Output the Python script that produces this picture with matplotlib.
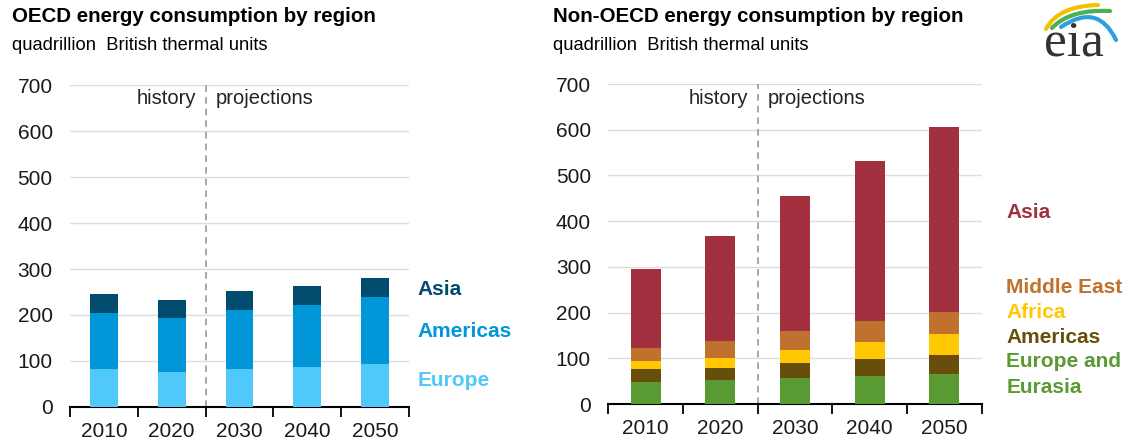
import matplotlib.pyplot as plt
import numpy as np
from matplotlib.path import Path
from matplotlib.patches import PathPatch

plt.rcParams['font.family'] = ['Liberation Sans', 'DejaVu Sans']

# -------------------------------
# Data (quadrillion Btu)
# -------------------------------
years = ["2010", "2020", "2030", "2040", "2050"]

oecd_europe = [82, 76, 82, 87, 92]
oecd_americas = [123, 118, 129, 135, 148]
oecd_asia = [40, 38, 40, 42, 41]

non_europe = [49, 52, 56, 61, 66]
non_americas = [27, 27, 33, 37, 41]
non_africa = [18, 22, 29, 38, 46]
non_mideast = [29, 37, 42, 46, 49]
non_asia = [172, 230, 294, 350, 403]

# -------------------------------
# Styling
# -------------------------------
oecd_series = [
    ("Europe", oecd_europe, "#50c8fa"),
    ("Americas", oecd_americas, "#0096d7"),
    ("Asia", oecd_asia, "#004b6e"),
]
non_series = [
    ("Europe and\nEurasia", non_europe, "#5a9a32"),
    ("Americas", non_americas, "#674e0a"),
    ("Africa", non_africa, "#ffc800"),
    ("Middle East", non_mideast, "#bf712d"),
    ("Asia", non_asia, "#a3303f"),
]

fig = plt.figure(figsize=(11.3, 4.44), dpi=100)


def stacked(ax, series, width, label_y):
    x = np.arange(len(years))
    bottom = np.zeros(len(years))
    for name, vals, color in series:
        ax.bar(x, vals, width, bottom=bottom, color=color, zorder=3)
        bottom += np.array(vals)

    ax.set_xlim(-0.5, len(years) - 0.5)
    ax.set_ylim(0, 700)
    ax.set_yticks(np.arange(0, 701, 100))
    ax.tick_params(axis="y", length=0, labelsize=15, pad=12.5, labelcolor="#1a1a1a")
    ax.set_xticks(x)
    ax.set_xticklabels(years)
    ax.tick_params(axis="x", which="major", length=0, labelsize=15, pad=11, labelcolor="#1a1a1a")
    ax.set_xticks(np.arange(-0.5, len(years)), minor=True)
    ax.tick_params(axis="x", which="minor", length=7, width=1.3, direction="out")
    for s in ["top", "right", "left"]:
        ax.spines[s].set_visible(False)
    ax.spines["bottom"].set_linewidth(1.5)
    ax.grid(axis="y", color="#dddddd", linewidth=1, zorder=0)

    # history / projections divider
    ax.axvline(1.5, color="#999999", linestyle=(0, (4, 3)), linewidth=1.2, zorder=2)
    ax.annotate("history", (1.5, label_y), xytext=(-7, 0), textcoords="offset points",
                ha="right", va="center", fontsize=14.5, color="#222222")
    ax.annotate("projections", (1.5, label_y), xytext=(7, 0), textcoords="offset points",
                ha="left", va="center", fontsize=14.5, color="#222222")


# -------------------------------
# OECD
# -------------------------------
ax1 = fig.add_axes([70 / 1130, 1 - 406.7 / 444, 339 / 1130, 321.3 / 444])
stacked(ax1, oecd_series, 0.41, 672)
for name, y, color in [("Asia", 256, "#004b6e"), ("Americas", 163, "#0096d7"),
                       ("Europe", 56, "#50c8fa")]:
    ax1.text(4.62, y, name, ha="left", va="center", fontsize=15,
             fontweight="bold", color=color)

fig.text(0.011, 0.962, "OECD energy consumption by region", fontsize=14.8,
         fontweight="bold", va="center")
fig.text(0.011, 0.897, "quadrillion  British thermal units", fontsize=13.2, va="center")

# -------------------------------
# Non-OECD
# -------------------------------
ax2 = fig.add_axes([608.3 / 1130, 1 - 404 / 444, 373.4 / 1130, 320 / 444])
stacked(ax2, non_series, 0.40, 669)
for name, y, color in [("Asia", 419, "#a3303f"), ("Middle East", 255, "#bf712d"),
                       ("Africa", 200, "#ffc800"), ("Americas", 146, "#674e0a"),
                       ("Europe and", 93, "#5a9a32"), ("Eurasia", 37, "#5a9a32")]:
    ax2.text(4.83, y, name, ha="left", va="center", fontsize=15,
             fontweight="bold", color=color)

fig.text(0.489, 0.962, "Non-OECD energy consumption by region", fontsize=14.8,
         fontweight="bold", va="center")
fig.text(0.489, 0.897, "quadrillion  British thermal units", fontsize=13.2, va="center")

# -------------------------------
# eia logo (pixel coords, y down)
# -------------------------------
lax = fig.add_axes([1030 / 1130, 1 - 70 / 444, 100 / 1130, 70 / 444])
lax.set_xlim(1030, 1130)
lax.set_ylim(70, 0)
lax.axis("off")
lax.text(1074, 55, "eia", ha="center", va="baseline", fontsize=37,
         family=["Liberation Serif", "DejaVu Serif"], color="#333333")
for pts, c in [([(1046, 29), (1058, 6), (1098, 5)], "#f2c200"),
               ([(1052, 28), (1070, 9), (1110, 11)], "#4caf50"),
               ([(1061, 27), (1098, 2), (1116, 40)], "#2ca0dc")]:
    path = Path(pts, [Path.MOVETO, Path.CURVE3, Path.CURVE3])
    lax.add_patch(PathPatch(path, fill=False, edgecolor=c, linewidth=3, capstyle="round"))

plt.savefig("out.png", dpi=100)
plt.close(fig)
